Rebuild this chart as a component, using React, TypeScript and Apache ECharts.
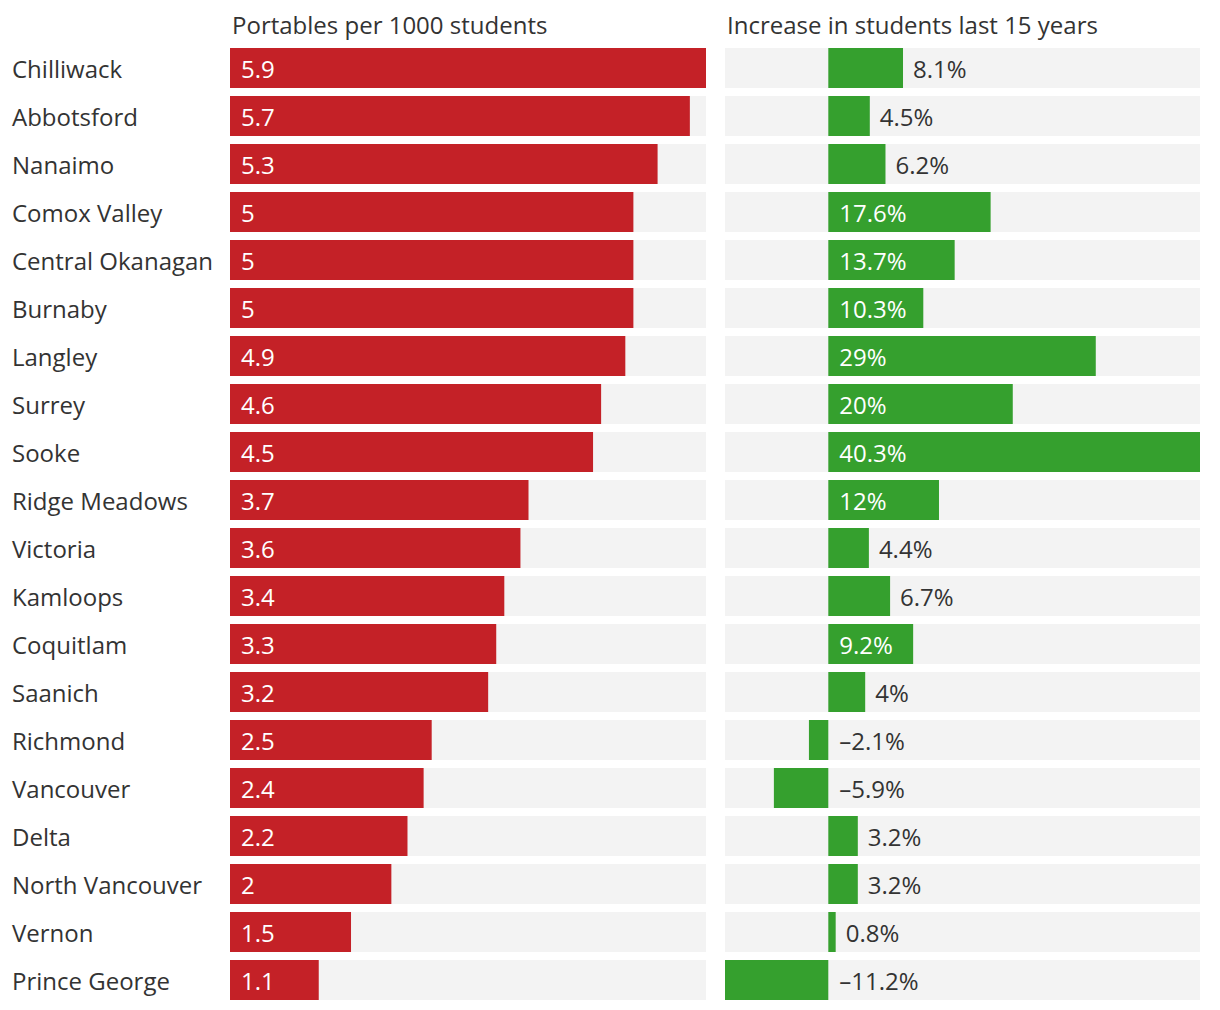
import React, { useEffect, useRef } from "react";
import * as echarts from "echarts";

const categories = [
  "Chilliwack", "Abbotsford", "Nanaimo", "Comox Valley", "Central Okanagan",
  "Burnaby", "Langley", "Surrey", "Sooke", "Ridge Meadows", "Victoria",
  "Kamloops", "Coquitlam", "Saanich", "Richmond", "Vancouver", "Delta",
  "North Vancouver", "Vernon", "Prince George",
];
const portables = [5.9, 5.7, 5.3, 5, 5, 5, 4.9, 4.6, 4.5, 3.7, 3.6, 3.4, 3.3, 3.2, 2.5, 2.4, 2.2, 2, 1.5, 1.1];
const increase = [8.1, 4.5, 6.2, 17.6, 13.7, 10.3, 29, 20, 40.3, 12, 4.4, 6.7, 9.2, 4, -2.1, -5.9, 3.2, 3.2, 0.8, -11.2];
const leftTitle = "Portables per 1000 students";
const rightTitle = "Increase in students last 15 years";

const FONT = "'Open Sans', 'Noto Sans', sans-serif";
const RED = "#c42127";
const GREEN = "#35a02e";
const BG = "#f3f3f3";
const DARK = "#333333";
const FS = 24;

export default function App() {
  const ref = useRef<HTMLDivElement>(null);
  useEffect(() => {
    if (!ref.current) return;
    const chart = echarts.init(ref.current, null, { renderer: "svg" });
    const fmtPct = (v: number) => (v < 0 ? "\u2013" + Math.abs(v) : String(v)) + "%";
    const rightLabels = increase.map((v, i) => {
      const inside = v >= 9;
      const atValue = v > 0 && !inside;
      return {
        value: [atValue ? v : 0, i],
        label: {
          color: inside ? "#ffffff" : DARK,
          distance: atValue ? 10 : 11,
          formatter: fmtPct(v),
        },
      };
    });
    chart.setOption({
      animation: false,
      textStyle: { fontFamily: FONT },
      graphic: [
        { type: "text", left: 232, top: 12, style: { text: leftTitle, font: `${FS}px ${FONT}`, fill: DARK } },
        { type: "text", left: 727, top: 12, style: { text: rightTitle, font: `${FS}px ${FONT}`, fill: DARK } },
      ],
      grid: [
        { left: 230, width: 476, top: 44, height: 960 },
        { left: 725, width: 475, top: 44, height: 960 },
      ],
      xAxis: [
        { type: "value", gridIndex: 0, min: 0, max: 5.9, show: false },
        { type: "value", gridIndex: 1, min: -11.2, max: 40.3, show: false },
      ],
      yAxis: [
        {
          type: "category", gridIndex: 0, data: categories, inverse: true,
          axisLine: { show: false }, axisTick: { show: false }, splitLine: { show: false },
          axisLabel: { align: "left", margin: 218, fontSize: FS, color: DARK, fontFamily: FONT },
        },
        {
          type: "category", gridIndex: 1, data: categories, inverse: true, show: false,
        },
      ],
      series: [
        {
          type: "bar", xAxisIndex: 0, yAxisIndex: 0, data: portables, barWidth: 40,
          itemStyle: { color: RED },
          showBackground: true, backgroundStyle: { color: BG },
          label: {
            show: true, position: "insideLeft", distance: 11, color: "#ffffff",
            fontSize: FS, fontFamily: FONT,
          },
        },
        {
          type: "bar", xAxisIndex: 1, yAxisIndex: 1, data: increase, barWidth: 40,
          itemStyle: { color: GREEN },
          showBackground: true, backgroundStyle: { color: BG },
        },
        {
          type: "scatter", xAxisIndex: 1, yAxisIndex: 1, symbolSize: 0, data: rightLabels,
          z: 5,
          itemStyle: { opacity: 1 },
          label: { show: true, position: "right", fontSize: FS, fontFamily: FONT, opacity: 1 },
          silent: true,
        },
      ],
    });
    return () => chart.dispose();
  }, []);
  return <div ref={ref} style={{ position: "absolute", left: 0, top: 0, width: 1220, height: 1010 }} />;
}
